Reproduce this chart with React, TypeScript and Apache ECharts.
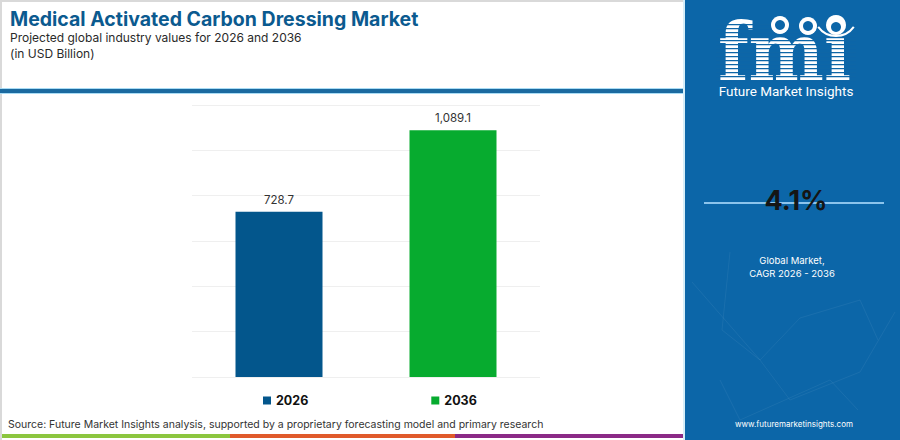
import React, { useEffect, useRef } from "react";
import * as echarts from "echarts";

const categories = ["2026", "2036"];
const values = [728.7, 1089.1];
const seriesColors = ["#03568c", "#07ab2f"];
const valueLabels = ["728.7", "1,089.1"];
const yMax = 1200;
const yInterval = 200;

const titleText = "Medical Activated Carbon Dressing Market";
const subtitleText = "Projected global industry values for 2026 and 2036";
const unitText = "(in USD Billion)";
const sourceText =
  "Source: Future Market Insights analysis, supported by a proprietary forecasting model and primary research";
const cagrText = "4.1%";
const cagrLabel = "Global Market,\nCAGR 2026 - 2036";
const siteText = "www.futuremarketinsights.com";
const brandText = "Future Market Insights";

export default function App() {
  const ref = useRef<HTMLDivElement>(null);
  useEffect(() => {
    if (!ref.current) return;
    const chart = echarts.init(ref.current, null, { renderer: "svg" });
    const FONT = "Inter, 'Noto Sans', sans-serif";

    const stripes: any[] = [];
    for (let y = 24; y < 84; y += 4) {
      stripes.push({
        type: "rect",
        shape: { x: 716, y, width: 140, height: 1.2 },
        style: { fill: "#0e66a6" },
        z: 12,
      });
    }

    const series = categories.map((c, i) => ({
      name: c,
      type: "bar",
      barWidth: "50%",
      barGap: "-100%",
      itemStyle: { color: seriesColors[i] },
      label: {
        show: true,
        position: "top",
        distance: 6,
        color: "#333",
        fontSize: 11.5,
        fontFamily: FONT,
        formatter: () => valueLabels[i],
      },
      data: categories.map((_, j) => (j === i ? values[i] : "-")),
    }));

    const netLine = (points: number[][]) => ({
      type: "polyline",
      shape: { points },
      style: { stroke: "rgba(255,255,255,0.06)", lineWidth: 1, fill: "none" },
      z: 11,
    });

    chart.setOption({
      animation: false,
      backgroundColor: "#ffffff",
      grid: { left: 192, right: 360, top: 105, bottom: 63 },
      xAxis: {
        type: "category",
        data: categories,
        axisLine: { show: false },
        axisTick: { show: false },
        axisLabel: { show: false },
      },
      yAxis: {
        type: "value",
        min: 0,
        max: yMax,
        interval: yInterval,
        axisLabel: { show: false },
        axisLine: { show: false },
        axisTick: { show: false },
        splitLine: { lineStyle: { color: "#efefef", width: 1 } },
      },
      legend: {
        data: categories,
        left: 258,
        top: 389,
        itemWidth: 8,
        itemHeight: 8,
        itemGap: 123,
        icon: "rect",
        textStyle: { fontSize: 12.5, fontWeight: "bold", color: "#111", fontFamily: FONT },
      },
      series,
      graphic: [
        // borders
        { type: "rect", shape: { x: 0, y: 0, width: 685, height: 2 }, style: { fill: "#d9d9d9" } },
        { type: "rect", shape: { x: 0, y: 0, width: 2, height: 440 }, style: { fill: "#d9d9d9" } },
        // header separator
        { type: "rect", shape: { x: 0, y: 88, width: 685, height: 6 }, style: { fill: "#a9dcf5" } },
        { type: "rect", shape: { x: 0, y: 89, width: 685, height: 4 }, style: { fill: "#1b6aa0" } },
        // title texts
        {
          type: "text",
          x: 10,
          y: 18.5,
          style: {
            text: titleText,
            fill: "#0b5a8f",
            fontSize: 19.5,
            fontWeight: "bold",
            fontFamily: FONT,
            verticalAlign: "middle",
          },
        },
        {
          type: "text",
          x: 10,
          y: 37.5,
          style: {
            text: subtitleText,
            fill: "#2a2a2a",
            fontSize: 12,
            fontFamily: FONT,
            verticalAlign: "middle",
          },
        },
        {
          type: "text",
          x: 10,
          y: 53.5,
          style: {
            text: unitText,
            fill: "#2a2a2a",
            fontSize: 12,
            fontFamily: FONT,
            verticalAlign: "middle",
          },
        },
        // source
        {
          type: "text",
          left: 8,
          top: 419,
          style: { text: sourceText, fill: "#333", fontSize: 10.5, fontFamily: FONT },
        },
        // bottom strip
        { type: "rect", shape: { x: 2, y: 434, width: 228, height: 4 }, style: { fill: "#8cc63f" } },
        { type: "rect", shape: { x: 230, y: 434, width: 225, height: 4 }, style: { fill: "#e05a2b" } },
        { type: "rect", shape: { x: 455, y: 434, width: 230, height: 4 }, style: { fill: "#8b2a86" } },
        // right panel
        { type: "rect", shape: { x: 685, y: 0, width: 215, height: 440 }, style: { fill: "#0c66a8" }, z: 10 },
        { type: "rect", shape: { x: 683, y: 0, width: 2, height: 440 }, style: { fill: "#d6eef9" }, z: 10 },
        // faint network lines
        netLine([[730, 252], [722, 330], [760, 360], [800, 318], [860, 300], [878, 340]]),
        netLine([[692, 282], [760, 360], [790, 400], [860, 372], [895, 312]]),
        netLine([[720, 380], [740, 420], [830, 380], [858, 410]]),
        // logo
        {
          type: "text",
          x: 718,
          y: 84,
          scaleX: 0.89,
          style: {
            text: "fmı",
            fill: "#ffffff",
            fontSize: 80,
            fontWeight: "bold",
            fontFamily: "'DejaVu Serif', serif",
            verticalAlign: "bottom",
            lineHeight: 64,
          },
          z: 11,
        },
        ...stripes,
        { type: "circle", shape: { cx: 780, cy: 25, r: 9 }, style: { fill: "#ffffff" }, z: 13 },
        { type: "circle", shape: { cx: 808, cy: 26, r: 9 }, style: { fill: "#ffffff" }, z: 13 },
        { type: "circle", shape: { cx: 836, cy: 25, r: 10 }, style: { fill: "#ffffff" }, z: 13 },
        { type: "circle", shape: { cx: 780, cy: 25, r: 5 }, style: { fill: "#0c66a8" }, z: 14 },
        { type: "circle", shape: { cx: 808, cy: 26, r: 5 }, style: { fill: "#0c66a8" }, z: 14 },
        { type: "circle", shape: { cx: 836, cy: 27, r: 5 }, style: { fill: "#0c66a8" }, z: 14 },
        {
          type: "arc",
          shape: { cx: 836, cy: 14, r: 22, startAngle: Math.PI * 0.2, endAngle: Math.PI * 0.8 },
          style: { stroke: "#ffffff", lineWidth: 2, fill: "none" },
          z: 13,
        },
        {
          type: "text",
          x: 786,
          y: 91,
          style: {
            text: brandText,
            fill: "#ffffff",
            fontSize: 13.5,
            fontFamily: "Roboto, sans-serif",
            align: "center",
            verticalAlign: "middle",
          },
          z: 13,
        },
        // CAGR
        { type: "rect", shape: { x: 704, y: 202, width: 180, height: 2 }, style: { fill: "#8cc4ec" }, z: 12 },
        {
          type: "text",
          x: 796,
          y: 200,
          style: {
            text: cagrText,
            fill: "#151515",
            fontSize: 27,
            fontWeight: "bold",
            fontFamily: FONT,
            align: "center",
            verticalAlign: "middle",
          },
          z: 13,
        },
        {
          type: "text",
          x: 792,
          y: 266.5,
          style: {
            text: cagrLabel,
            fill: "#ffffff",
            fontSize: 9.5,
            lineHeight: 13,
            fontFamily: FONT,
            align: "center",
            verticalAlign: "middle",
          },
          z: 13,
        },
        {
          type: "text",
          x: 794,
          y: 424,
          style: {
            text: siteText,
            fill: "#ffffff",
            fontSize: 8,
            fontFamily: FONT,
            align: "center",
            verticalAlign: "middle",
          },
          z: 13,
        },
      ],
    });
    return () => chart.dispose();
  }, []);
  return (
    <div
      ref={ref}
      style={{ position: "fixed", left: 0, top: 0, width: 900, height: 440 }}
    />
  );
}
